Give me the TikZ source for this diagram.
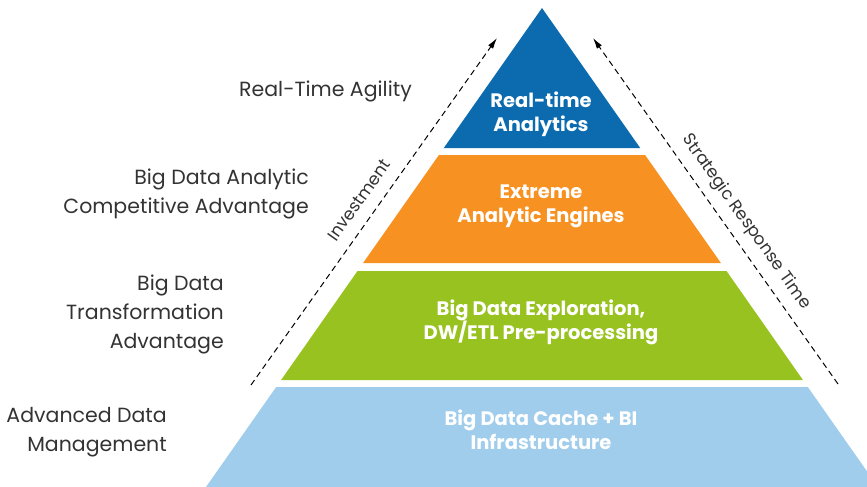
\documentclass[tikz,border=0pt]{standalone}
\usepackage{fontspec}
\setmainfont{Poppins}
\usetikzlibrary{arrows.meta}
\definecolor{rtblue}{HTML}{0B6BAE}
\definecolor{engorange}{HTML}{F79122}
\definecolor{explgreen}{HTML}{98C21F}
\definecolor{cacheblue}{HTML}{A1CDEC}
\definecolor{labelgray}{HTML}{333333}
\begin{document}
\begin{tikzpicture}[x=1pt,y=-1pt,
bandtext/.style={text=white,font=\bfseries\fontsize{19.5}{24}\selectfont,align=center,inner sep=0pt},
sidelabel/.style={text=labelgray,font=\fontsize{20.5}{29}\selectfont,align=right,anchor=east,inner sep=0pt},
dasharrow/.style={dash pattern=on 6pt off 4pt,line width=1pt,-{Latex[length=11pt,width=6pt]}},
axislabel/.style={text=labelgray,font=\fontsize{17}{17}\selectfont,inner sep=0pt}]
\useasboundingbox (0,0) rectangle (867,487);
% pyramid bands
\begin{scope}
\clip (0,0) rectangle (867,487);
\fill[rtblue] (542,8) -- (640.2,148) -- (443.8,148) -- cycle;
\fill[engorange] (438.9,155) -- (645.1,155) -- (720.9,263) -- (363.1,263) -- cycle;
\fill[explgreen] (357.5,271) -- (726.5,271) -- (802.9,380) -- (281.1,380) -- cycle;
\fill[cacheblue] (276.2,387) -- (807.8,387) -- (878,487) -- (206,487) -- cycle;
\end{scope}
\draw (541,114) node[bandtext] (rta) {Real-time\\Analytics};
\draw (541,206) node[bandtext] (eae) {Extreme\\Analytic Engines};
\draw (541,322) node[bandtext] (bde) {Big Data Exploration,\\DW/ETL Pre-processing};
\draw (541,430) node[bandtext] (bdc) {Big Data Cache + BI\\Infrastructure};
% levels on the left
\draw (412,91) node[sidelabel] (agil) {Real-Time Agility};
\draw (309,194) node[sidelabel] (comp) {Big Data Analytic\\Competitive Advantage};
\draw (224,314) node[sidelabel] (trans) {Big Data\\Transformation\\Advantage};
\draw (167,432) node[sidelabel] (adm) {Advanced Data\\Management};
% dashed axes
\coordinate (inv0) at (251,385);
\coordinate (inv1) at (497,38);
\coordinate (srt0) at (838,384);
\coordinate (srt1) at (593,38);
\draw[dasharrow] (inv0) -- (inv1);
\draw[dasharrow] (srt0) -- (srt1);
\draw (359,200) node[axislabel,rotate=54.7] (inv) {Investment};
\draw (746,222) node[axislabel,rotate=-54.7] (srt) {Strategic Response Time};
\end{tikzpicture}
\end{document}
